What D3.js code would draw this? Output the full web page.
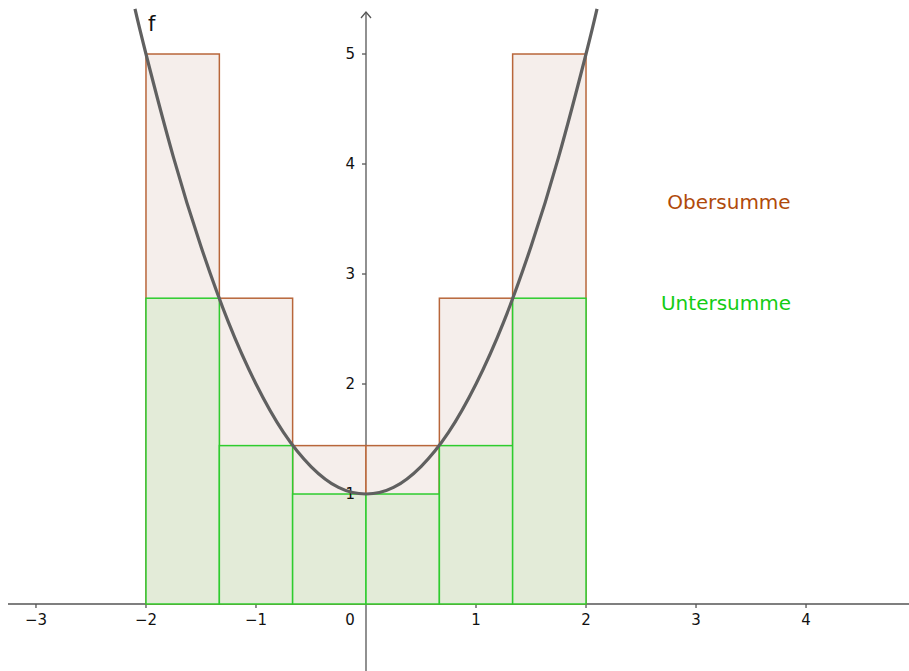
<!DOCTYPE html>
<html>
<head>
<meta charset="utf-8">
<script src="https://cdn.jsdelivr.net/npm/d3@7"></script>
<style>
  body { margin: 0; background: #fff; }
  svg { display: block; font-family: "DejaVu Sans", sans-serif; }
</style>
</head>
<body>
<div id="graph"></div>
<script>
// partition of [-2, 2] into 6 strips
const breaks = [-2, -1.333, -0.667, 0, 0.667, 1.333, 2]
const upperHeights = [5, 2.78, 1.44, 1.44, 2.78, 5]
const lowerHeights = [2.78, 1.44, 1, 1, 1.44, 2.78]

// points of f
const curveX = [-2.1, -2, -1.75, -1.5, -1.25, -1, -0.75, -0.5, -0.25, 0, 0.25, 0.5, 0.75, 1, 1.25, 1.5, 1.75, 2, 2.1]
const curveY = [5.41, 5, 4.06, 3.25, 2.56, 2, 1.56, 1.25, 1.06, 1, 1.06, 1.25, 1.56, 2, 2.56, 3.25, 4.06, 5, 5.41]

const xTicks = [-3, -2, -1, 0, 1, 2, 3, 4]
const yTicks = [1, 2, 3, 4, 5]

const width = 909
const height = 671

const svg = d3.select("#graph").append("svg")
  .attr("width", width)
  .attr("height", height)

const x = d3.scaleLinear().domain([-3.327, 4.936]).range([0, width])
const y = d3.scaleLinear().domain([5.491, -0.609]).range([0, height])

// axes
svg.append("line")
  .attr("x1", 8).attr("x2", width)
  .attr("y1", y(0)).attr("y2", y(0))
  .attr("stroke", "#555").attr("stroke-width", 1.3)
svg.append("line")
  .attr("x1", x(0)).attr("x2", x(0))
  .attr("y1", 12).attr("y2", height)
  .attr("stroke", "#555").attr("stroke-width", 1.3)
svg.append("path")
  .attr("d", `M${x(0) - 5},${18} L${x(0)},${12} L${x(0) + 5},${18}`)
  .attr("fill", "none").attr("stroke", "#555").attr("stroke-width", 1.3)

svg.selectAll(".xtick").data(xTicks.filter(d => d !== 0)).enter().append("line")
  .attr("x1", d => x(d)).attr("x2", d => x(d))
  .attr("y1", y(0)).attr("y2", y(0) + 4)
  .attr("stroke", "#555").attr("stroke-width", 1.3)
svg.selectAll(".ytick").data(yTicks).enter().append("line")
  .attr("x1", x(0) - 4).attr("x2", x(0))
  .attr("y1", d => y(d)).attr("y2", d => y(d))
  .attr("stroke", "#555").attr("stroke-width", 1.3)

// upper sum rectangles
svg.selectAll(".upper").data(upperHeights).enter().append("rect")
  .attr("x", (d, i) => x(breaks[i]))
  .attr("width", (d, i) => x(breaks[i + 1]) - x(breaks[i]))
  .attr("y", d => y(d))
  .attr("height", d => y(0) - y(d))
  .attr("fill", "#f5eeeb")
  .attr("stroke", "#b8663a")
  .attr("stroke-width", 1.5)

// lower sum rectangles
svg.selectAll(".lower").data(lowerHeights).enter().append("rect")
  .attr("x", (d, i) => x(breaks[i]))
  .attr("width", (d, i) => x(breaks[i + 1]) - x(breaks[i]))
  .attr("y", d => y(d))
  .attr("height", d => y(0) - y(d))
  .attr("fill", "#e3ebd8")
  .attr("stroke", "#2ecc2e")
  .attr("stroke-width", 1.5)

// tick labels on top
svg.selectAll(".xlab").data(xTicks).enter().append("text")
  .attr("x", d => d === 0 ? x(0) - 16 : x(d))
  .attr("y", y(0) + 21)
  .attr("text-anchor", "middle")
  .attr("font-size", 15)
  .attr("fill", "#111")
  .text(d => d < 0 ? "\u2212" + (-d) : d)
svg.selectAll(".ylab").data(yTicks).enter().append("text")
  .attr("x", x(0) - 11)
  .attr("y", d => y(d) + 5)
  .attr("text-anchor", "end")
  .attr("font-size", 15)
  .attr("fill", "#111")
  .text(d => d)

// graph of f
const pts = curveX.map((v, i) => [v, curveY[i]])
svg.append("path")
  .datum(pts)
  .attr("fill", "none")
  .attr("stroke", "#606060")
  .attr("stroke-width", 3.2)
  .attr("d", d3.line()
    .x(d => x(d[0]))
    .y(d => y(d[1]))
    .curve(d3.curveNatural))

svg.append("text")
  .attr("x", 148).attr("y", 31)
  .attr("font-size", 21)
  .attr("fill", "#111")
  .text("f")

svg.append("text")
  .attr("x", 729).attr("y", 209)
  .attr("text-anchor", "middle")
  .attr("font-size", 20)
  .attr("fill", "#b04a0a")
  .text("Obersumme")
svg.append("text")
  .attr("x", 726).attr("y", 310)
  .attr("text-anchor", "middle")
  .attr("font-size", 20)
  .attr("fill", "#14cc14")
  .text("Untersumme")
</script>
</body>
</html>
